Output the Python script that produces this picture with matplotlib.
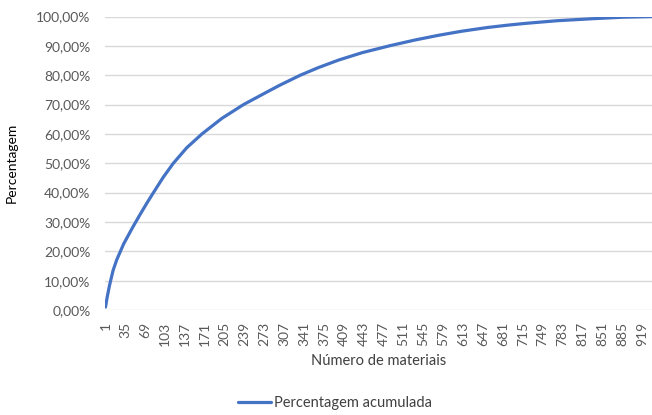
import numpy as np
import matplotlib
matplotlib.use('Agg')
import matplotlib.pyplot as plt

# Data (material number -> cumulative percentage)
materiais = [1, 4, 8, 14, 20, 32, 47, 60, 72, 83, 100, 117, 140, 166, 200,
             237, 280, 300, 334, 365, 400, 440, 488, 530, 570, 610, 655,
             690, 720, 774, 836, 887, 936]
percentagem = [1.0, 4.5, 8.5, 13.5, 17.0, 22.5, 28.0, 32.5, 36.5, 40.0, 45.3,
               50.0, 55.3, 60.0, 65.3, 70.0, 74.6, 76.7, 80.0, 82.6, 85.2,
               87.7, 90.1, 92.0, 93.6, 95.0, 96.3, 97.1, 97.7, 98.6, 99.3,
               99.8, 100.0]
x_ticks = list(range(1, 920, 34))
y_ticks = list(range(0, 101, 10))

plt.rcParams['font.family'] = ['Lato', 'DejaVu Sans']
text_col = '#595959'

fig = plt.figure(figsize=(6.52, 4.15), dpi=100)
ax = fig.add_axes([0.1618, 0.253, 0.8382, 0.707])

ax.plot(materiais, percentagem, color='#4472C4', lw=2.3,
        solid_capstyle='round', solid_joinstyle='round',
        label='Percentagem acumulada', zorder=3)

ax.set_xlim(1, 936)
ax.set_ylim(0, 100)
ax.set_xticks(x_ticks)
ax.set_xticklabels([str(t) for t in x_ticks], rotation=90)
ax.set_yticks(y_ticks)
ax.set_yticklabels(['{},00%'.format(t) for t in y_ticks])
ax.tick_params(axis='both', length=0, labelsize=10, colors=text_col)
ax.tick_params(axis='x', pad=8.5)
ax.tick_params(axis='y', pad=10.8)

ax.grid(axis='y', color='#d9d9d9', lw=1)
ax.set_axisbelow(True)
for s in ax.spines.values():
    s.set_visible(False)

ax.set_ylabel('Percentagem', fontsize=10, color='black')
ax.yaxis.set_label_coords(-0.16, 0.5)
ax.set_xlabel('Número de materiais', fontsize=10.5, color='#404040')
ax.xaxis.set_label_coords(0.5, -0.15)

fig.legend(loc='center', bbox_to_anchor=(335 / 652, 1 - 403 / 415),
           frameon=False, fontsize=10.5, handlelength=2.3, handletextpad=0.2,
           labelcolor='#404040')

fig.savefig('out.png', dpi=100)
